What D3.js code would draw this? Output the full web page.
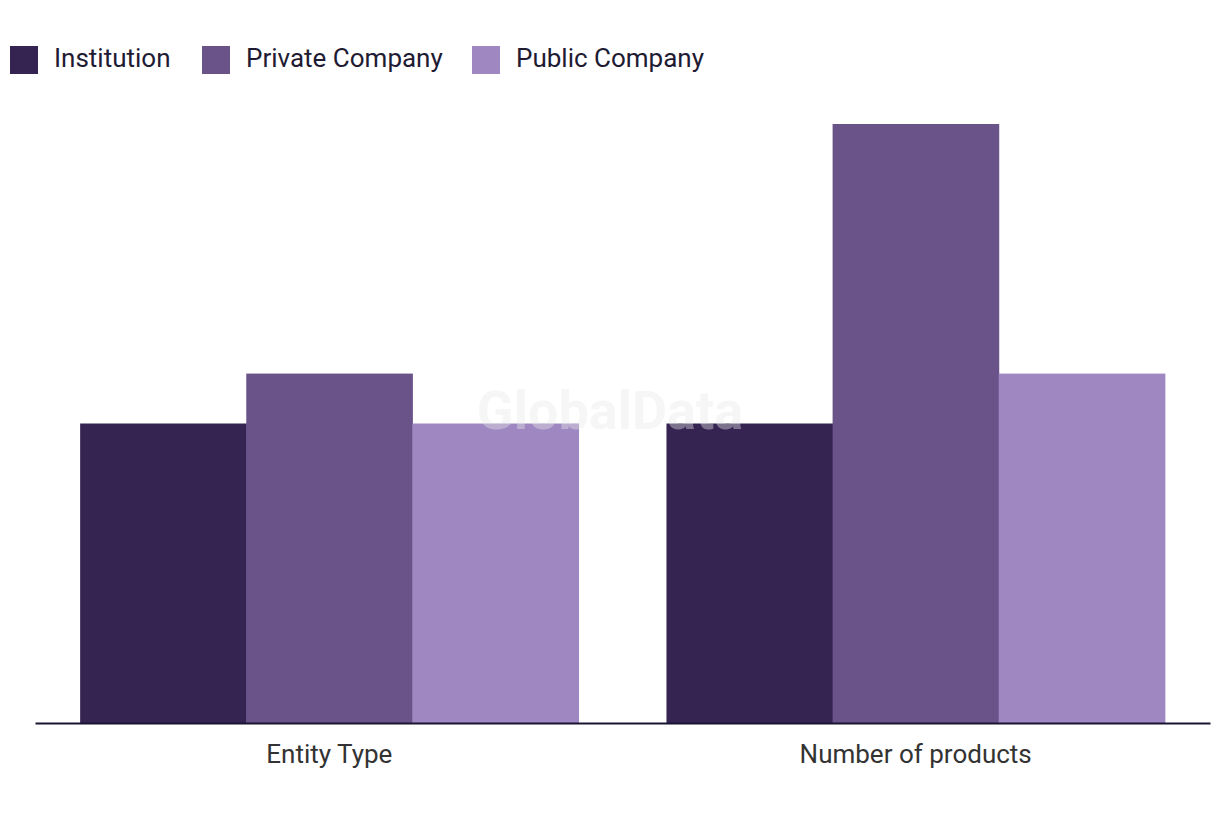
<!DOCTYPE html>
<html>
<head>
<meta charset="utf-8">
<script src="https://cdn.jsdelivr.net/npm/d3@7"></script>
<style>
  body { margin: 0; background: #fff; }
  text { font-family: Roboto, "Noto Sans", sans-serif; }
</style>
</head>
<body>
<div id="chart"></div>
<script>
// categories and series
const groups = ['Entity Type', 'Number of products'];
const seriesNames = ['Institution', 'Private Company', 'Public Company'];
const seriesColors = ['#352452', '#695389', '#9f88c1'];
const institutionValues = [6, 6];
const privateValues = [7, 12];
const publicValues = [6, 7];

const width = 1220;
const height = 820;
const margin = { top: 124, right: 10, bottom: 97, left: 35 };

const svg = d3.select('#chart')
  .append('svg')
  .attr('width', width)
  .attr('height', height);

const rows = groups.map((g, i) => ({
  group: g,
  'Institution': institutionValues[i],
  'Private Company': privateValues[i],
  'Public Company': publicValues[i],
}));

const x0 = d3.scaleBand()
  .domain(groups)
  .range([margin.left, width - margin.right])
  .paddingInner(0.15)
  .paddingOuter(0.077);

const x1 = d3.scaleBand()
  .domain(seriesNames)
  .range([0, x0.bandwidth()]);

const y = d3.scaleLinear()
  .domain([0, 12])
  .range([height - margin.bottom, margin.top]);

const color = d3.scaleOrdinal().domain(seriesNames).range(seriesColors);

// bars
svg.append('g')
  .selectAll('g')
  .data(rows)
  .join('g')
  .attr('transform', d => `translate(${x0(d.group)},0)`)
  .selectAll('rect')
  .data(d => seriesNames.map(k => ({ key: k, value: d[k] })))
  .join('rect')
  .attr('x', d => x1(d.key))
  .attr('width', x1.bandwidth() + 0.5)
  .attr('y', d => y(d.value))
  .attr('height', d => y(0) - y(d.value))
  .attr('fill', d => color(d.key));

// x axis
const xAxis = d3.axisBottom(x0).tickSize(0).tickPadding(22);
const xg = svg.append('g')
  .attr('transform', `translate(0,${y(0)})`)
  .call(xAxis);
xg.select('.domain').attr('stroke', '#1a1530').attr('stroke-width', 2);
xg.selectAll('text')
  .attr('font-size', 26)
  .attr('fill', '#333');

// legend
const legend = svg.append('g').attr('transform', 'translate(10,46)');
const legendX = [0, 192, 462];
const items = legend.selectAll('g')
  .data(seriesNames)
  .join('g')
  .attr('transform', (d, i) => `translate(${legendX[i]},0)`);
items.append('rect')
  .attr('width', 28)
  .attr('height', 28)
  .attr('fill', d => color(d));
items.append('text')
  .attr('x', 44)
  .attr('y', 21)
  .attr('font-size', 26)
  .attr('fill', '#1e1b33')
  .text(d => d);

// watermark
svg.append('text')
  .attr('x', 610)
  .attr('y', 429)
  .attr('text-anchor', 'middle')
  .attr('font-size', 54)
  .attr('font-weight', 'bold')
  .attr('fill', '#e8e8e8')
  .attr('fill-opacity', 0.4)
  .text('GlobalData');
</script>
</body>
</html>
